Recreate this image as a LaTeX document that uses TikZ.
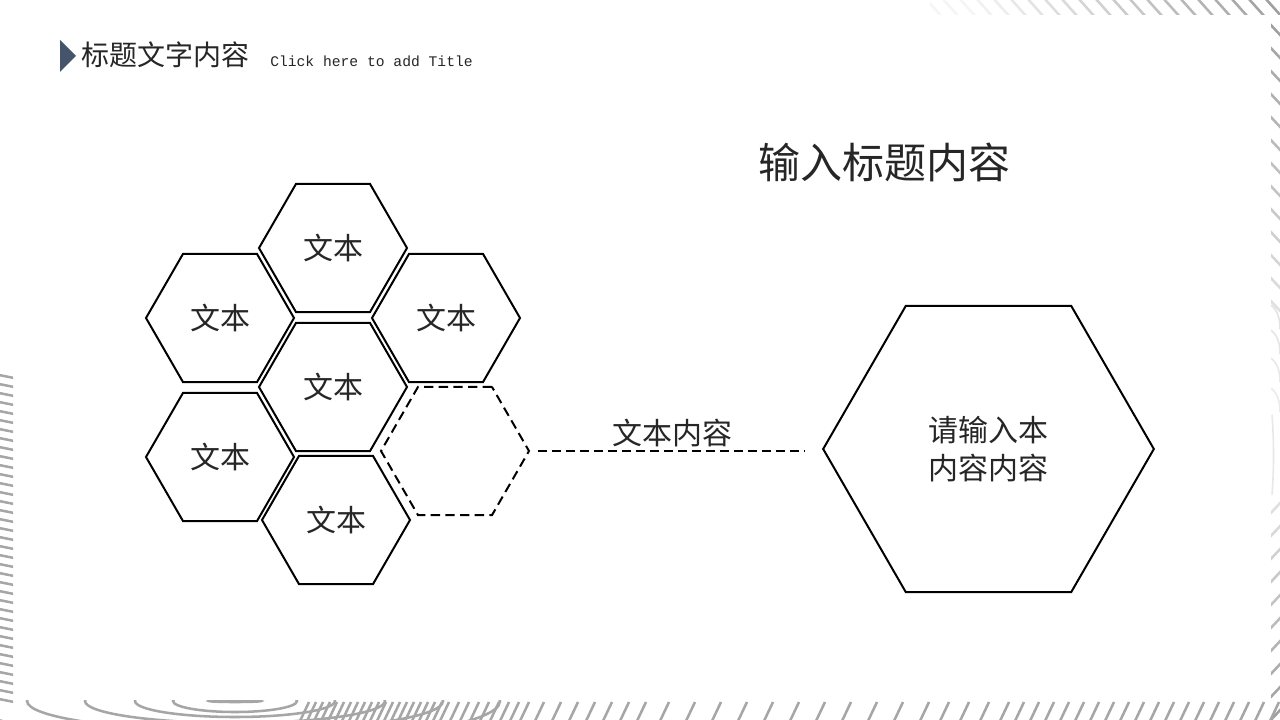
\documentclass[tikz,border=0pt]{standalone}
\usepackage{fontspec}
\setmainfont{Liberation Serif}
\setmonofont{Liberation Mono}
\newfontfamily\cjk{Noto Sans CJK SC}
\usetikzlibrary{shapes.geometric}
\definecolor{slate}{HTML}{44546A}
\definecolor{txt}{HTML}{262626}
\begin{document}
\begin{tikzpicture}[x=0.75pt,y=-0.75pt,
  hexbox/.style={regular polygon, regular polygon sides=6, draw=black, line width=1.5pt,
    minimum size=111pt, inner sep=0pt, font=\cjk\fontsize{22.5}{27}\selectfont, text=txt},
  hexdash/.style={hexbox, dash pattern=on 7pt off 4pt},
  bighex/.style={hexbox, minimum size=248pt, align=center, font=\cjk\fontsize{22.5}{28.5}\selectfont},
  stripe/.style={line width=1.9pt},
  link/.style={line width=1.5pt, dash pattern=on 6.5pt off 4pt}
]
\useasboundingbox (0,0) rectangle (1280,720);
\fill[white] (0,0) rectangle (1280,720);

% ---- border decorations ----
% top strip
\begin{scope}
  \clip (930,0) rectangle (1280,15);
  \foreach \x in {930,947,...,1300} {
    \pgfmathtruncatemacro\c{min(75,max(8,(\x-930)/340*75))}
    \draw[stripe, gray!\c] (\x-5,-2) -- (\x+12,17);
  }
\end{scope}
% right strip
\begin{scope}
  \clip (1271,18) rectangle (1280,720);
  \foreach \y in {22,45,...,300} {
    \pgfmathtruncatemacro\c{max(20,75-(\y-22)/280*50)}
    \draw[stripe, gray!\c] (1268,\y) -- (1283,\y+16);
  }
  \foreach \y/\c in {305/22,330/20,358/18,388/16} {
    \draw[line width=1.2pt, gray!\c] (1271,\y) .. controls (1278,\y+6) and (1280,\y+14) .. (1280,\y+24);
  }
  \draw[line width=1.2pt, gray!18] (1272,415) .. controls (1274,440) and (1274,470) .. (1272,495);
  \foreach \y in {500,523,...,720} {
    \pgfmathtruncatemacro\c{min(75,25+(\y-500)/200*50)}
    \draw[stripe, gray!\c] (1268,\y+16) -- (1283,\y);
  }
\end{scope}
% left strip
\begin{scope}
  \clip (0,372) rectangle (13,702);
  \foreach \y in {375,384,...,700} {
    \draw[stripe, gray!70] (-1,\y) -- (14,\y+3);
  }
\end{scope}
% bottom strip
\begin{scope}
  \clip (0,700) rectangle (1280,720);
  \foreach \a/\b in {26/1,62/11,100/16,150/22,208/30,265/42} {
    \draw[stripe, gray!70] (235,701) ellipse [x radius=\a, y radius=\b];
  }
  \foreach \x in {300,307,...,440, 450,460,...,520, 535,552,...,640, 660,686,...,920, 940,960,...,1000, 1015,1030,...,1270} {
    \draw[stripe, gray!70] (\x,721) -- (\x+9,702);
  }
\end{scope}

% ---- header ----
\fill[slate] (60,40) -- (76,56) -- (60,72) -- cycle;
\node[anchor=west, inner sep=0pt, font=\cjk\fontsize{21}{24}\selectfont, text=txt] (htitle) at (81,55) {标题文字内容};
\node[anchor=west, inner sep=0pt, font=\ttfamily\fontsize{11}{13}\selectfont, text=txt] (hsub) at (270,61) {Click here to add Title};

% ---- title ----
\node[font=\cjk\fontsize{31.5}{36}\selectfont, text=txt, inner sep=0pt] (title) at (884,162) {输入标题内容};

% ---- honeycomb ----
\node[hexbox] (h1) at (333,248) {文本};
\node[hexbox] (h2) at (220,318) {文本};
\node[hexbox] (h3) at (446,318) {文本};
\node[hexbox] (h4) at (333,387) {文本};
\node[hexbox] (h5) at (220,457) {文本};
\node[hexbox] (h6) at (336,520) {文本};
\node[hexdash] (hd) at (455,451) {};

% ---- big hexagon ----
\node[bighex] (big) at (988.5,449) {请输入本\\内容内容};

% ---- connector ----
\draw[link, shorten <=6pt, shorten >=13pt] (hd.east) -- (hd.east -| big.west);
\node[font=\cjk\fontsize{22.5}{27}\selectfont, text=txt, inner sep=0pt] (lbl) at (672,433) {文本内容};
\end{tikzpicture}
\end{document}
